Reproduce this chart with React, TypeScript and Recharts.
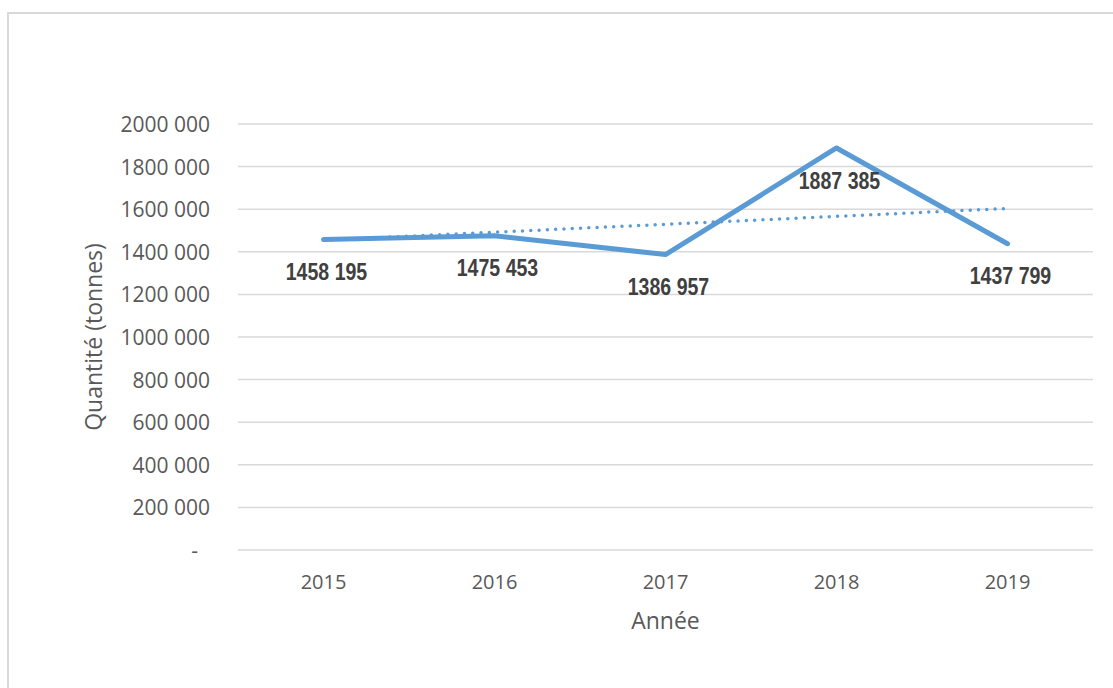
import React from 'react';
import { LineChart, Line, XAxis, YAxis, CartesianGrid, LabelList, Label } from 'recharts';

const years = ['2015', '2016', '2017', '2018', '2019'];
const quantities = [1458195, 1475453, 1386957, 1887385, 1437799];
const trendValues = [1454930, 1492044, 1529158, 1566272, 1603386];
const yTicks = [0, 200000, 400000, 600000, 800000, 1000000, 1200000, 1400000, 1600000, 1800000, 2000000];

const data = years.map((y, i) => ({ year: y, q: quantities[i], trend: trendValues[i] }));

const BLUE = '#5B9BD5';
const TICK = '#595959';
const TICK_FONT = "'Open Sans', 'Noto Sans', sans-serif";
const LABEL_FONT = "'Liberation Sans', Arial, sans-serif";

const fmtTick = (v: number) => {
  if (v === 0) return '-';
  const th = Math.floor(v / 1000);
  const rest = String(v % 1000).padStart(3, '0');
  return `${th} ${rest}`;
};
const fmtLabel = (v: number) => {
  const th = Math.floor(v / 1000);
  const rest = String(v % 1000).padStart(3, '0');
  return `${th} ${rest}`;
};

const XTick = (props: any) => {
  const { x, y, payload } = props;
  return (
    <text x={x} y={y + 31} textAnchor="middle" dominantBaseline="central" fill={TICK} fontSize={20} fontFamily={TICK_FONT}>
      {payload.value}
    </text>
  );
};

const YTick = (props: any) => {
  const { x, y, payload } = props;
  const v = payload.value as number;
  return (
    <text x={v === 0 ? x - 40 : x - 28} y={y} textAnchor="end" dominantBaseline="central" fill={TICK} fontSize={21} fontFamily={TICK_FONT}>
      {fmtTick(v)}
    </text>
  );
};

const DataLabel = (props: any) => {
  const { x, y, value } = props;
  return (
    <g transform={`translate(${x + 3}, ${y + 33}) scale(0.85, 1)`}>
      <text x={0} y={0} textAnchor="middle" dominantBaseline="central" fill="#404040" fontSize={23} fontWeight="bold" fontFamily={LABEL_FONT}>
        {fmtLabel(value)}
      </text>
    </g>
  );
};

const YTitle = (props: any) => {
  const vb = props.viewBox || {};
  const cx = vb.x + 55;
  const cy = vb.y + vb.height / 2;
  return (
    <text x={cx} y={cy} transform={`rotate(-90, ${cx}, ${cy})`} textAnchor="middle" dominantBaseline="central" fill={TICK} fontSize={23} fontFamily={TICK_FONT}>
      Quantité (tonnes)
    </text>
  );
};

const XTitle = (props: any) => {
  const vb = props.viewBox || {};
  const cx = vb.x + vb.width / 2;
  const cy = vb.y + 70;
  return (
    <text x={cx} y={cy} textAnchor="middle" dominantBaseline="central" fill={TICK} fontSize={23} fontFamily={TICK_FONT}>
      Année
    </text>
  );
};

export default function App() {
  return (
    <div style={{ position: 'absolute', left: 0, top: 0, width: 1113, height: 688, overflow: 'hidden', background: '#fff' }}>
      <div style={{ position: 'absolute', left: 7, top: 12, width: 1200, height: 800, border: '2px solid #d9d9d9', boxSizing: 'border-box' }} />
      <div style={{ position: 'absolute', left: 0, top: 0 }}>
        <LineChart width={1113} height={688} data={data} margin={{ top: 124, right: 20, bottom: 98, left: 38 }}>
          <CartesianGrid vertical={false} stroke="#d9d9d9" strokeWidth={1.5} />
          <XAxis dataKey="year" scale="band" axisLine={false} tickLine={false} tickSize={0} tickMargin={0} height={40} tick={<XTick />} interval={0}>
            <Label content={<XTitle />} />
          </XAxis>
          <YAxis domain={[0, 2000000]} ticks={yTicks} axisLine={false} tickLine={false} tickSize={0} tickMargin={0} width={200} tick={<YTick />} interval={0}>
            <Label content={<YTitle />} />
          </YAxis>
          <Line dataKey="trend" stroke={BLUE} strokeWidth={3.5} strokeDasharray="0 8.3" strokeLinecap="round" dot={false} activeDot={false} isAnimationActive={false} />
          <Line dataKey="q" stroke={BLUE} strokeWidth={5} strokeLinecap="round" strokeLinejoin="round" dot={false} activeDot={false} isAnimationActive={false}>
            <LabelList dataKey="q" content={<DataLabel />} />
          </Line>
        </LineChart>
      </div>
    </div>
  );
}
